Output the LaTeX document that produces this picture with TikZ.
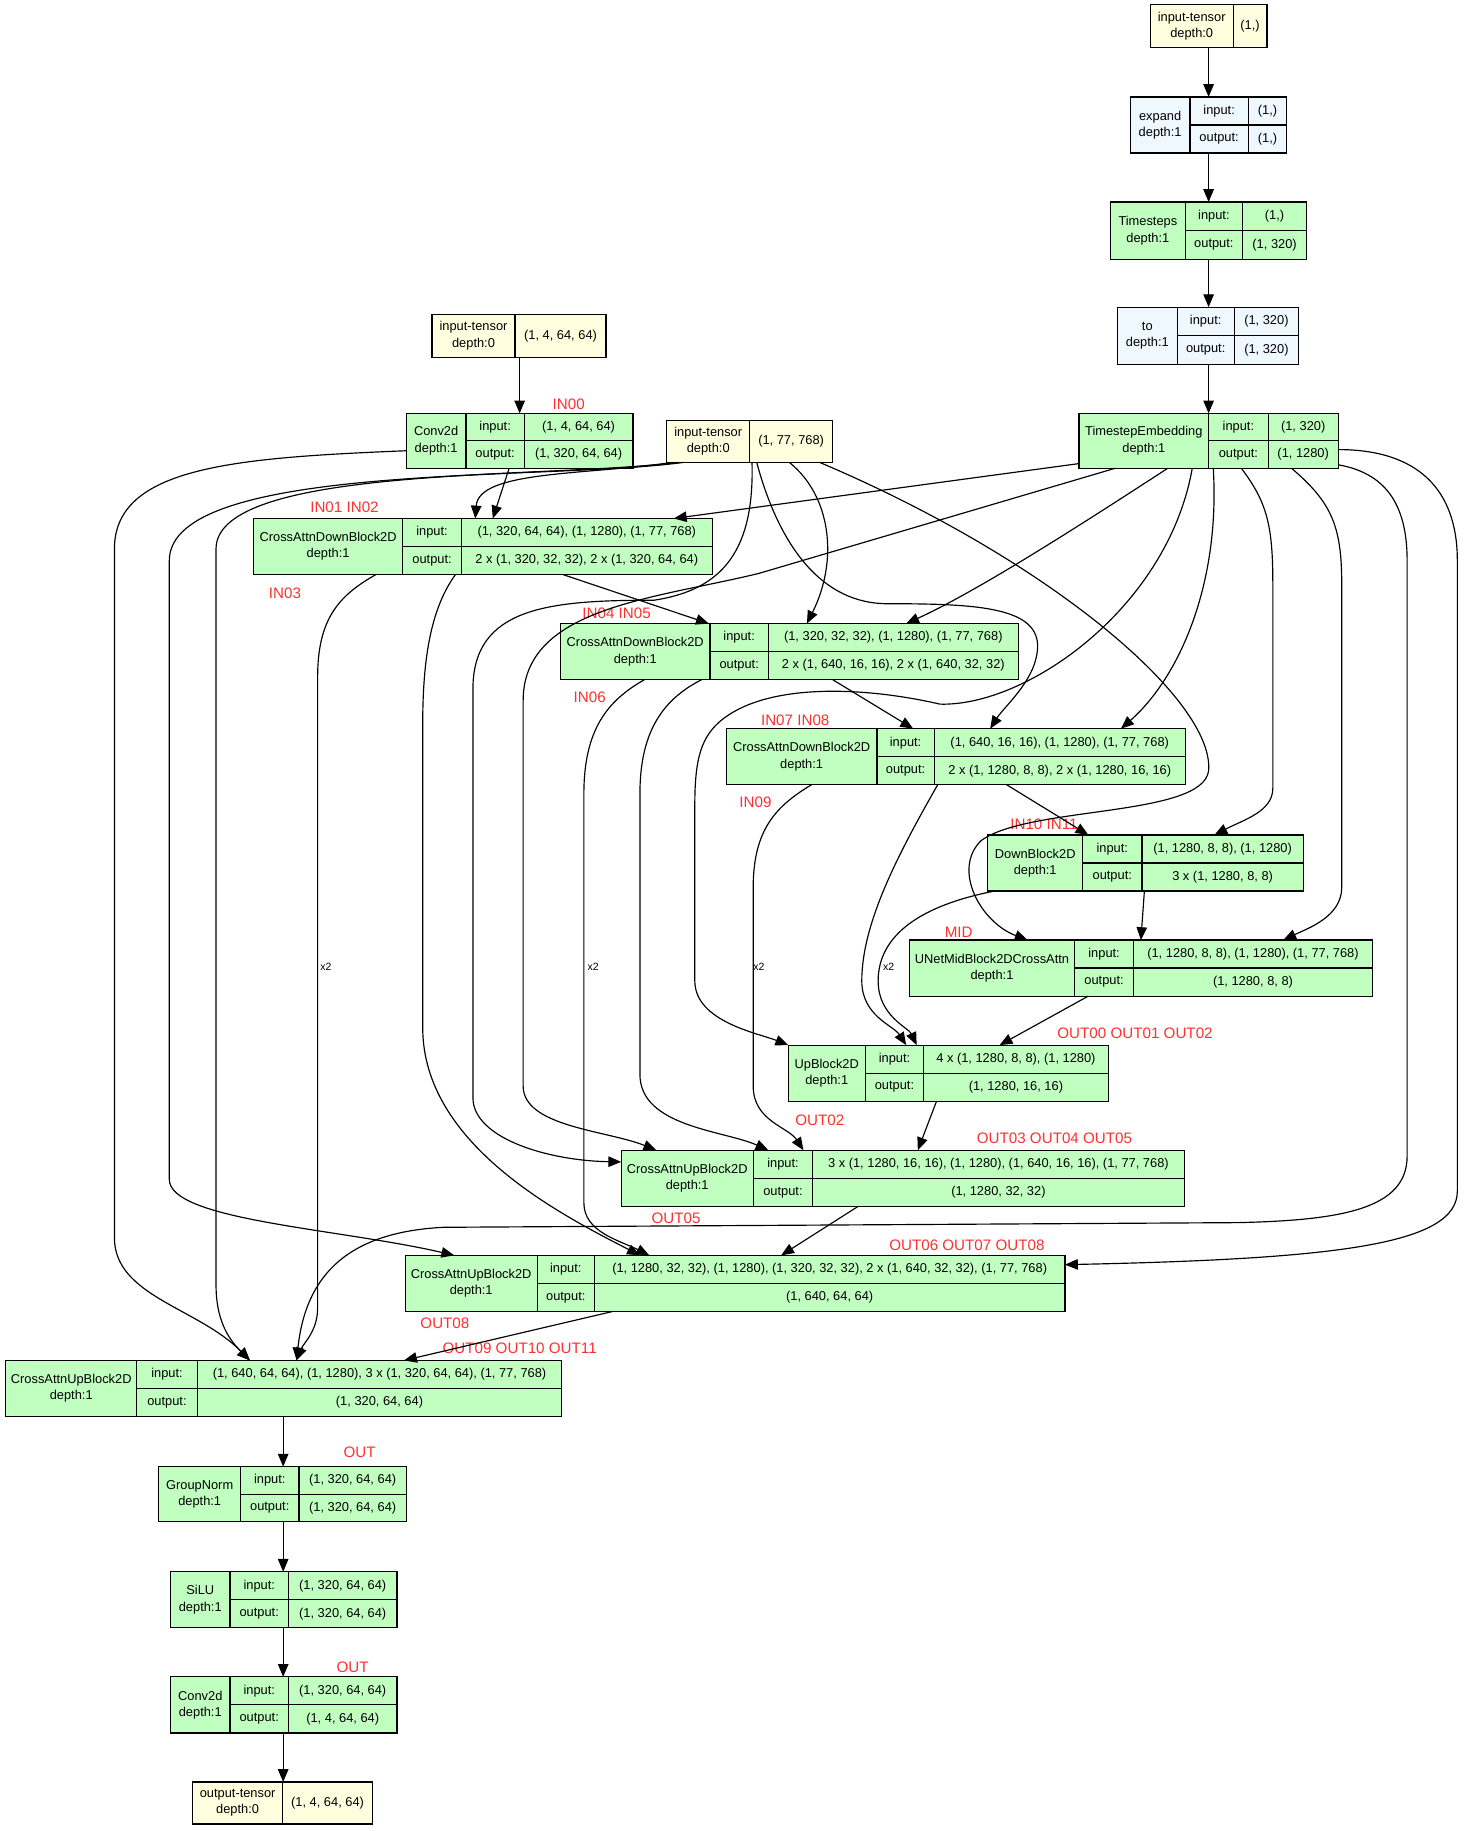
\documentclass[tikz,border=0pt]{standalone}
\usepackage{fontspec}
\setmainfont{Liberation Sans}
\usetikzlibrary{arrows.meta}
\definecolor{yel}{RGB}{255,255,224}
\definecolor{grn}{RGB}{193,255,193}
\definecolor{blu}{RGB}{240,248,255}
\definecolor{redc}{RGB}{255,48,48}
\newcommand\recnode[9]{%
  \node[box, fill=#2, minimum width={(#5-#3)*1pt}, minimum height={(#6-#4)*1pt}] (#1) at (#3,#4) {};
  \draw[sep] (#7,#4) -- (#7,#6) (#8,#4) -- (#8,#6) (#7,{(#4+#6)/2}) -- (#5,{(#4+#6)/2});
  \node[cell] (#1-t) at ({(#3+#7)/2},{(#4+#6)/2}) {#9};
  \node[cell] (#1-i) at ({(#7+#8)/2},{(3*#4+#6)/4}) {input:};
  \node[cell] (#1-o) at ({(#7+#8)/2},{(#4+3*#6)/4}) {output:};
  \gdef\rcT{#4}\gdef\rcB{#6}\gdef\rcR{#5}\gdef\rcD{#8}\gdef\rcN{#1}}
\newcommand\recvals[2]{%
  \node[cell] (\rcN-iv) at ({(\rcD+\rcR)/2},{(3*\rcT+\rcB)/4}) {#1};
  \node[cell] (\rcN-ov) at ({(\rcD+\rcR)/2},{(\rcT+3*\rcB)/4}) {#2};}
\newcommand\tensnode[8]{%
  \node[box, fill=yel, minimum width={(#4-#2)*1pt}, minimum height={(#5-#3)*1pt}] (#1) at (#2,#3) {};
  \draw[sep] (#6,#3) -- (#6,#5);
  \node[cell] (#1-t) at ({(#2+#6)/2},{(#3+#5)/2}) {#7};
  \node[cell] (#1-v) at ({(#6+#4)/2},{(#3+#5)/2}) {#8};}
\begin{document}
\begin{tikzpicture}[x=1pt,y=-1pt,
  box/.style={draw, line width=1pt, inner sep=0pt, outer sep=0pt, anchor=north west},
  cell/.style={font=\fontsize{11}{14}\selectfont, inner sep=0pt, align=center},
  lbl/.style={text=redc, font=\fontsize{13}{15}\selectfont, inner sep=0pt},
  xl/.style={font=\fontsize{9}{10}\selectfont, inner sep=0pt},
  arr/.style={-{Triangle[length=11pt,width=9pt]}, line width=1pt},
  sep/.style={line width=1pt}]
\fill[white] (0,0) rectangle (1255,1568);
\useasboundingbox (0,0) rectangle (1255,1568);

% ---------- nodes ----------
\tensnode{inT}{985}{4}{1085}{41}{1056}{input-tensor\\depth:0}{(1,)}
\recnode{expand}{blu}{968}{83}{1102}{131}{1019}{1069}{expand\\depth:1}\recvals{(1,)}{(1,)}
\recnode{tsteps}{grn}{951}{173}{1119}{222}{1015}{1064}{Timesteps\\depth:1}\recvals{(1,)}{(1, 320)}
\recnode{tto}{blu}{957}{263}{1112}{312}{1008}{1057}{to\\depth:1}\recvals{(1, 320)}{(1, 320)}
\recnode{te}{grn}{924}{354}{1146}{401}{1035}{1086}{TimestepEmbedding\\depth:1}\recvals{(1, 320)}{(1, 1280)}
\tensnode{inX}{370}{269}{519}{306}{441}{input-tensor\\depth:0}{(1, 4, 64, 64)}
\recnode{conv}{grn}{348}{354}{542}{401}{399}{449}{Conv2d\\depth:1}\recvals{(1, 4, 64, 64)}{(1, 320, 64, 64)}
\tensnode{ehs}{571}{360}{713}{396}{642}{input-tensor\\depth:0}{(1, 77, 768)}
\recnode{cadb1}{grn}{217}{444}{610}{492}{345}{395}{CrossAttnDownBlock2D\\depth:1}\recvals{(1, 320, 64, 64), (1, 1280), (1, 77, 768)}{2 x (1, 320, 32, 32), 2 x (1, 320, 64, 64)}
\recnode{cadb2}{grn}{480}{534}{872}{582}{608}{658}{CrossAttnDownBlock2D\\depth:1}\recvals{(1, 320, 32, 32), (1, 1280), (1, 77, 768)}{2 x (1, 640, 16, 16), 2 x (1, 640, 32, 32)}
\recnode{cadb3}{grn}{622}{624}{1015}{672}{751}{800}{CrossAttnDownBlock2D\\depth:1}\recvals{(1, 640, 16, 16), (1, 1280), (1, 77, 768)}{2 x (1, 1280, 8, 8), 2 x (1, 1280, 16, 16)}
\recnode{down}{grn}{846}{715}{1116}{763}{927}{978}{DownBlock2D\\depth:1}\recvals{(1, 1280, 8, 8), (1, 1280)}{3 x (1, 1280, 8, 8)}
\recnode{mid}{grn}{779}{805}{1175}{853}{920}{971}{UNetMidBlock2DCrossAttn\\depth:1}\recvals{(1, 1280, 8, 8), (1, 1280), (1, 77, 768)}{(1, 1280, 8, 8)}
\recnode{up}{grn}{675}{895}{949}{943}{741}{791}{UpBlock2D\\depth:1}\recvals{4 x (1, 1280, 8, 8), (1, 1280)}{(1, 1280, 16, 16)}
\recnode{caub1}{grn}{532}{985}{1014}{1033}{645}{696}{CrossAttnUpBlock2D\\depth:1}\recvals{3 x (1, 1280, 16, 16), (1, 1280), (1, 640, 16, 16), (1, 77, 768)}{(1, 1280, 32, 32)}
\recnode{caub2}{grn}{347}{1075}{912}{1123}{460}{509}{CrossAttnUpBlock2D\\depth:1}\recvals{(1, 1280, 32, 32), (1, 1280), (1, 320, 32, 32), 2 x (1, 640, 32, 32), (1, 77, 768)}{(1, 640, 64, 64)}
\recnode{caub3}{grn}{5}{1165}{481}{1213}{117}{169}{CrossAttnUpBlock2D\\depth:1}\recvals{(1, 640, 64, 64), (1, 1280), 3 x (1, 320, 64, 64), (1, 77, 768)}{(1, 320, 64, 64)}
\recnode{gn}{grn}{136}{1256}{348}{1303}{206}{256}{GroupNorm\\depth:1}\recvals{(1, 320, 64, 64)}{(1, 320, 64, 64)}
\recnode{silu}{grn}{146}{1346}{340}{1394}{197}{247}{SiLU\\depth:1}\recvals{(1, 320, 64, 64)}{(1, 320, 64, 64)}
\recnode{convo}{grn}{146}{1436}{340}{1484}{197}{247}{Conv2d\\depth:1}\recvals{(1, 320, 64, 64)}{(1, 4, 64, 64)}
\tensnode{outT}{165}{1526}{319}{1562}{242}{output-tensor\\depth:0}{(1, 4, 64, 64)}

% ---------- red labels ----------
\node[lbl] (l1) at (487,346) {IN00};
\node[lbl] (l2) at (295,434) {IN01 IN02};
\node[lbl] (l3) at (244,508) {IN03};
\node[lbl] (l4) at (528,525) {IN04 IN05};
\node[lbl] (l5) at (505,597) {IN06};
\node[lbl] (l6) at (681,617) {IN07 IN08};
\node[lbl] (l7) at (647,687) {IN09};
\node[lbl] (l8) at (894,706) {IN10 IN11};
\node[lbl] (l9) at (821,798) {MID};
\node[lbl] (l10) at (972,885) {OUT00 OUT01 OUT02};
\node[lbl] (l11) at (702,959) {OUT02};
\node[lbl] (l12) at (903,975) {OUT03 OUT04 OUT05};
\node[lbl] (l13) at (579,1043) {OUT05};
\node[lbl] (l14) at (828,1066) {OUT06 OUT07 OUT08};
\node[lbl] (l15) at (381,1133) {OUT08};
\node[lbl] (l16) at (445,1155) {OUT09 OUT10 OUT11};
\node[lbl] (l17) at (308,1244) {OUT};
\node[lbl] (l18) at (302,1428) {OUT};

% ---------- x2 labels ----------
\node[xl] (x2a) at (279,828) {x2};
\node[xl] (x2b) at (508,828) {x2};
\node[xl] (x2c) at (650,828) {x2};
\node[xl] (x2d) at (761,828) {x2};

% ---------- straight chain ----------
\draw[arr] (inT.south -| 1035,0) -- (expand.north -| 1035,0);
\draw[arr] (expand.south -| 1035,0) -- (tsteps.north -| 1035,0);
\draw[arr] (tsteps.south -| 1035,0) -- (tto.north -| 1035,0);
\draw[arr] (tto.south -| 1035,0) -- (te.north -| 1035,0);
\draw[arr] (inX.south -| 445,0) -- (conv.north -| 445,0);
\draw[arr] (caub3.south -| 242.5,0) -- (gn.north -| 242.5,0);
\draw[arr] (gn.south -| 242.5,0) -- (silu.north -| 242.5,0);
\draw[arr] (silu.south -| 242.5,0) -- (convo.north -| 242.5,0);
\draw[arr] (convo.south -| 242.5,0) -- (outT.north -| 242.5,0);

% ---------- conv outputs ----------
\draw[arr] (conv.south -| 436,0) -- (cadb1.north -| 422,0);
\draw[arr] (conv.west |- 0,386) .. controls (200,392) and (98,400) .. (98,470) -- (98,1060) .. controls (98,1110) and (170,1120) .. (caub3.north -| 214,0);

% ---------- encoder hidden states ----------
\draw[arr] (ehs.south -| 576,0) .. controls (500,407) and (410,403) .. (cadb1.north -| 407,0);
\draw[arr] (ehs.south -| 580,0) .. controls (470,410) and (185,398) .. (185,470) -- (185,1100) .. controls (185,1130) and (195,1146) .. (caub3.north -| 214,0);
\draw[arr] (ehs.south -| 585,0) .. controls (470,412) and (145,395) .. (145,480) -- (145,1010) .. controls (145,1045) and (290,1052) .. (caub2.north -| 389,0);
\draw[arr] (ehs.south -| 676,0) .. controls (712,425) and (718,480) .. (cadb2.north -| 691,0);
\draw[arr] (ehs.south -| 648,0) .. controls (668,470) and (705,517) .. (760,517) .. controls (840,517) and (895,520) .. (888,560) .. controls (884,585) and (860,605) .. (cadb3.north -| 848,0);
\draw[arr] (ehs.south -| 702,0) .. controls (900,480) and (1040,600) .. (1035,660) .. controls (1030,700) and (880,690) .. (840,720) .. controls (815,745) and (840,790) .. (mid.north -| 880,0);
\draw[arr] (ehs.south -| 644,0) .. controls (646,470) and (620,505) .. (560,514) .. controls (470,514) and (405,520) .. (405,590) -- (405,940) .. controls (405,975) and (470,994) .. (caub1.west |- 0,995);

% ---------- timestep embedding ----------
\draw[arr] (te.west |- 0,397) -- (cadb1.north -| 577,0);
\draw[arr] (te.south -| 1000,0) .. controls (940,440) and (840,505) .. (cadb2.north -| 776,0);
\draw[arr] (te.south -| 1039,0) .. controls (1045,500) and (1010,580) .. (cadb3.north -| 960,0);
\draw[arr] (te.south -| 1063,0) .. controls (1085,430) and (1090,450) .. (1090,500) -- (1090,675) .. controls (1090,695) and (1065,702) .. (down.north -| 1040,0);
\draw[arr] (te.south -| 1106,0) .. controls (1140,430) and (1149,450) .. (1149,500) -- (1149,760) .. controls (1149,785) and (1120,795) .. (mid.north -| 1099,0);
\draw[arr] (te.south -| 1021,0) .. controls (1000,520) and (880,605) .. (805,603) .. controls (740,588) and (660,585) .. (620,615) .. controls (600,630) and (595,650) .. (595,690) -- (595,840) .. controls (595,875) and (650,885) .. (up.west |- 0,895);
\draw[arr] (te.south -| 955,0) -- (650,491) .. controls (560,513) and (448,520) .. (448,600) -- (448,930) .. controls (448,965) and (520,968) .. (caub1.north -| 562,0);
\draw[arr] (te.east |- 0,385) .. controls (1215,385) and (1248,420) .. (1248,480) -- (1248,1020) .. controls (1248,1065) and (1150,1078) .. (caub2.east |- 0,1083);
\draw[arr] (te.east |- 0,398) .. controls (1185,405) and (1205,430) .. (1205,480) -- (1205,990) .. controls (1205,1035) and (1150,1045) .. (1060,1047) -- (380,1051) .. controls (300,1055) and (262,1090) .. (caub3.north -| 254,0);

% ---------- down path ----------
\draw[arr] (cadb1.south -| 482,0) -- (cadb2.north -| 607,0);
\draw[arr] (cadb1.south -| 322,0) .. controls (290,510) and (272,530) .. (272,580) -- (272,1120) .. controls (272,1140) and (260,1150) .. (caub3.north -| 254,0);
\draw[arr] (cadb1.south -| 390,0) .. controls (370,520) and (362,560) .. (362,620) -- (362,880) .. controls (362,980) and (480,1040) .. (caub2.north -| 548,0);
\draw[arr] (cadb2.south -| 713,0) -- (cadb3.north -| 782,0);
\draw[arr] (cadb2.south -| 552,0) .. controls (520,600) and (500,625) .. (500,680) -- (500,1030) .. controls (500,1055) and (530,1062) .. (caub2.north -| 556,0);
\draw[arr] (cadb2.south -| 601,0) .. controls (565,600) and (548,630) .. (548,680) -- (548,920) .. controls (548,965) and (620,968) .. (caub1.north -| 658,0);
\draw[arr] (cadb3.south -| 862,0) -- (down.north -| 932,0);
\draw[arr] (cadb3.south -| 695,0) .. controls (665,690) and (645,710) .. (645,760) -- (645,930) .. controls (645,960) and (675,965) .. (caub1.north -| 688,0);
\draw[arr] (cadb3.south -| 803,0) .. controls (770,730) and (738,790) .. (738,840) .. controls (738,870) and (765,878) .. (up.north -| 776,0);
\draw[arr] (down.south -| 852,0) .. controls (790,775) and (752,800) .. (752,840) .. controls (752,870) and (778,880) .. (up.north -| 785,0);
\draw[arr] (down.south -| 980,0) -- (mid.north -| 977,0);

% ---------- up path ----------
\draw[arr] (mid.south -| 932,0) -- (up.north -| 856,0);
\draw[arr] (up.south -| 802,0) -- (caub1.north -| 786,0);
\draw[arr] (caub1.south -| 735,0) -- (caub2.north -| 669,0);
\draw[arr] (caub2.south -| 525,0) -- (caub3.north -| 346,0);
\end{tikzpicture}
\end{document}
